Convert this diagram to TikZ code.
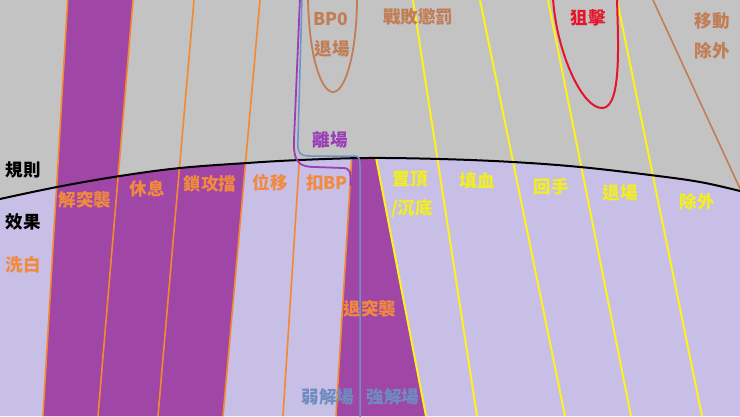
\documentclass[tikz,border=0pt]{standalone}
\usepackage{fontspec}
\setmainfont{Noto Sans CJK TC}
\definecolor{bggray}{HTML}{C3C3C3}
\definecolor{lav}{HTML}{C7BFE6}
\definecolor{purp}{HTML}{9F46A6}
\definecolor{orng}{HTML}{F5882E}
\definecolor{otxt}{HTML}{F28A3E}
\definecolor{ylw}{HTML}{FFF21A}
\definecolor{ytxt}{HTML}{F2EE22}
\definecolor{brwn}{HTML}{C27D55}
\definecolor{rd}{HTML}{E5142A}
\definecolor{blu}{HTML}{6F90C8}
\definecolor{btxt}{HTML}{6E8CC0}
\definecolor{ptxt}{HTML}{9A3FB5}
\tikzset{
  lbl/.style={inner sep=0pt, font=\fontsize{17.5}{20}\selectfont\bfseries},
  oline/.style={draw=orng, line width=1.6pt},
  yline/.style={draw=ylw, line width=2pt},
  loopline/.style={line width=1.8pt, line cap=round},
}
\begin{document}
\begin{tikzpicture}[x=1pt,y=-1pt]
\useasboundingbox (0,0) rectangle (740,416);
\fill[bggray] (0,0) rectangle (740,416);
% lower region
\fill[lav] (0,416) -- plot[smooth, tension=0.6] coordinates {(0,199) (57,187) (120,176) (180,168) (247,163) (300,160) (367,158) (440,159) (513,162) (580,167) (650,175) (700,182) (740,191)} -- (740,416) -- cycle;
% full-height purple band
\fill[purp] (67.7,0) -- (133,0) -- (98,416) -- (43,416) -- cycle;
\begin{scope}
  \clip (0,416) -- plot[smooth, tension=0.6] coordinates {(0,199) (57,187) (120,176) (180,168) (247,163) (300,160) (367,158) (440,159) (513,162) (580,167) (650,175) (700,182) (740,191)} -- (740,416) -- cycle;
  \fill[purp] (133,0) -- (260,0) -- (223,416) -- (98,416) -- cycle;
  \fill[purp] (352.7,140) -- (372.5,140) -- (426,416) -- (336,416) -- cycle;
  \draw[oline] (300,150) -- (283,416);
  \draw[oline] (351.6,160) -- (336,416);
  \draw[yline] (374.5,150) -- (426,416);
\end{scope}
% orange lines
\draw[oline] (67.7,0) -- (43,416);
\draw[oline] (133,0) -- (98,416);
\draw[oline] (194,0) -- (158,416);
\draw[oline] (260,0) -- (223,416);
% yellow lines
\draw[yline] (413,0) -- (477,416);
\draw[yline] (480,0) -- (565,416);
\draw[yline] (548,0) -- (631,416);
\draw[yline] (617,0) -- (702,416);
% brown line
\begin{scope}
  \clip (0,0) rectangle (740,416);
  \draw[brwn, line width=1.6pt] (653,0) -- (748,206);
\end{scope}
% black boundary curve
\draw[black, line width=2pt] plot[smooth, tension=0.6] coordinates {(0,199) (57,187) (120,176) (180,168) (247,163) (300,160) (367,158) (440,159) (513,162) (580,167) (650,175) (700,182) (740,191)};
% purple loop (離場)
\draw[ptxt, loopline] (300,-2) -- (294,140) .. controls (293,163) and (300,167) .. (315,167) -- (343,168) .. controls (350,168) and (351,172) .. (350.5,185);
% blue loop
\draw[blu, line width=1.5pt, line cap=round] (302,-2) -- (298,140) .. controls (297,153) and (300,156) .. (310,156) -- (354,156) .. controls (359,156) and (360,158) .. (360,166) -- (360,418);
% brown U (BP0 退場)
\draw[brwn, line width=1.8pt] (308,-2) .. controls (309,60) and (322,92) .. (333,92) .. controls (346,92) and (357,50) .. (357,-2);
% red U (狙擊)
\draw[rd, line width=2pt] (553,-2) .. controls (556,50) and (582,110) .. (603,108) .. controls (622,106) and (618,40) .. (617,-2);
% labels
\node[lbl, text=black] (guize) at (23,170) {規則};
\node[lbl, text=black] (xiaoguo) at (23,222) {效果};
\node[lbl, text=otxt] (xibai) at (23,265) {洗白};
\node[lbl, text=otxt] (jietuxi) at (85,200) {解突襲};
\node[lbl, text=otxt] (xiuxi) at (147,189) {休息};
\node[lbl, text=otxt] (suogongdang) at (210,184) {鎖攻擋};
\node[lbl, text=otxt] (weiyi) at (270,183) {位移};
\node[lbl, text=otxt] (koubp) at (327,183) {扣BP};
\node[lbl, text=ptxt] (lichang) at (330,140) {離場};
\node[lbl, text=brwn] (bp0) at (331,19) {BP0};
\node[lbl, text=brwn] (tuichang1) at (332,49) {退場};
\node[lbl, text=brwn] (zhanbai) at (418,17) {戰敗懲罰};
\node[lbl, text=rd] (juji) at (588,18) {狙擊};
\node[lbl, text=brwn] (yidong) at (712,21) {移動};
\node[lbl, text=brwn] (chuwai1) at (712,51) {除外};
\node[lbl, text=ytxt] (zhiding) at (410,179) {置頂};
\node[lbl, text=ytxt] (chendi) at (412,209) {/沉底};
\node[lbl, text=ytxt] (tianxue) at (477,181) {填血};
\node[lbl, text=ytxt] (huishou) at (551,187) {回手};
\node[lbl, text=ytxt] (tuichang2) at (620,193) {退場};
\node[lbl, text=ytxt] (chuwai2) at (697,202) {除外};
\node[lbl, text=otxt] (tuituxi) at (370,309) {退突襲};
\node[lbl, text=btxt] (ruojiechang) at (328,397) {弱解場};
\node[lbl, text=btxt] (qiangjiechang) at (393,397) {強解場};
\end{tikzpicture}
\end{document}
